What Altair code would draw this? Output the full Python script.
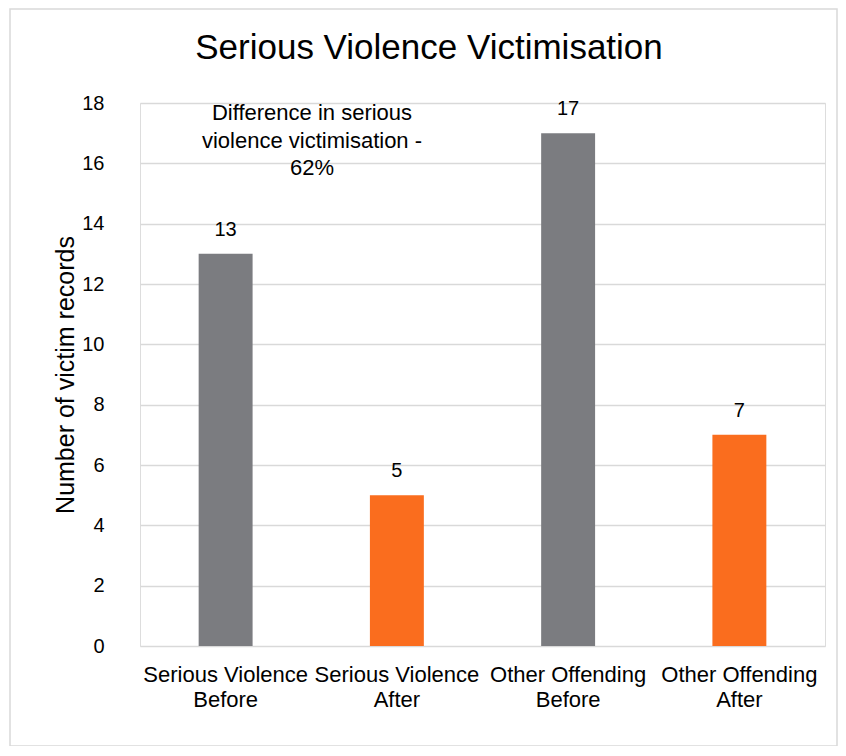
import altair as alt
import pandas as pd

categories = ["Serious Violence\nBefore", "Serious Violence\nAfter",
              "Other Offending\nBefore", "Other Offending\nAfter"]
values = [13, 5, 17, 7]
colors = ["#7b7c80", "#fa6d1e", "#7b7c80", "#fa6d1e"]
y_ticks = [0, 2, 4, 6, 8, 10, 12, 14, 16, 18]
title_text = "Serious Violence Victimisation"
annotation = ["Difference in serious", "violence victimisation -", "62%"]

df = pd.DataFrame({"cat": categories, "val": values, "col": colors})

W, H = 685, 543
FONT = "Liberation Sans"

base = alt.Chart(df).encode(
    x=alt.X("cat:N", sort=categories, title=None,
            scale=alt.Scale(paddingInner=0.685, paddingOuter=0.3425),
            axis=alt.Axis(labelExpr="split(datum.label, '\\n')", labelAngle=0,
                          labelFont=FONT, labelFontSize=22,
                          labelColor="#000000", labelPadding=18, labelLineHeight=25,
                          labelLimit=400, ticks=False, domain=False, grid=False))
)

bars = base.mark_bar().encode(
    y=alt.Y("val:Q", scale=alt.Scale(domain=[0, 18], nice=False),
            title="Number of victim records",
            axis=alt.Axis(values=y_ticks, grid=True, gridColor="#d9d9d9", gridWidth=1.5,
                          domain=False, ticks=False, labelFont=FONT,
                          labelFontSize=20, labelColor="#000000", labelPadding=36,
                          titleFont=FONT, titleFontSize=25,
                          titleFontWeight="normal", titleColor="#000000", titlePadding=3)),
    color=alt.Color("col:N", scale=None),
)

labels = base.mark_text(font=FONT, fontSize=20, color="#000000",
                        dy=-18, baseline="alphabetic").encode(
    y="val:Q", text="val:Q"
)

one = pd.DataFrame({"t": [title_text]})
title_mark = alt.Chart(one).mark_text(font=FONT, fontSize=35,
                                      color="#000000", align="center",
                                      baseline="alphabetic").encode(
    x=alt.value(289), y=alt.value(-44), text="t:N")

ann = pd.DataFrame({"t": ["\n".join(annotation)]})
ann_mark = alt.Chart(ann).mark_text(font=FONT, fontSize=22, color="#000000",
                                    align="center", baseline="alphabetic", lineBreak="\n",
                                    lineHeight=27.5).encode(
    x=alt.value(172), y=alt.value(17), text="t:N")

frame = alt.Chart(one).mark_rect(fill="transparent", stroke="#d9d9d9", strokeWidth=1.5).encode(
    x=alt.value(-130), x2=alt.value(697), y=alt.value(-94), y2=alt.value(643))

chart = alt.layer(frame, bars, labels, title_mark, ann_mark).properties(
    width=W, height=H,
    autosize=alt.AutoSizeParams(type="none"),
    padding={"left": 132, "top": 95, "right": 13, "bottom": 100},
).configure_view(stroke=None).configure(background="#ffffff")

chart.save("out.html", embed_options={"renderer": "svg", "actions": False})
